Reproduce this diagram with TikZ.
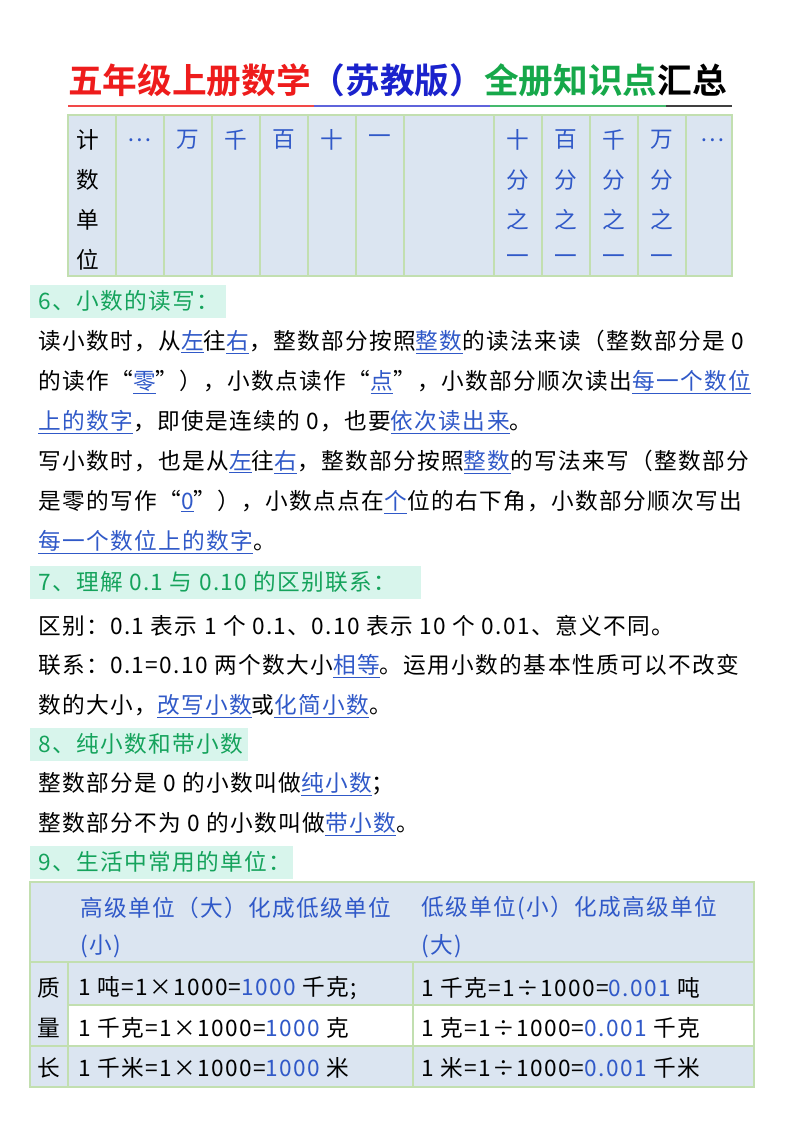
\documentclass[tikz,border=0pt]{standalone}
\usepackage{fontspec}
\setmainfont{Noto Sans CJK SC}[LetterSpace=6]
\newfontfamily\tfont{Noto Sans CJK SC}[BoldFont={* Bold}]
\definecolor{tred}{HTML}{EE1C1C}
\definecolor{tblue}{HTML}{1A22CC}
\definecolor{tgreen}{HTML}{16A84A}
\definecolor{ublue}{HTML}{3059C8}
\definecolor{hgreen}{HTML}{15A35C}
\definecolor{hbg}{HTML}{D8F5EC}
\definecolor{cellbg}{HTML}{DBE5F1}
\definecolor{cellln}{HTML}{C2DFB0}
\newcommand{\uw}[1]{\textcolor{ublue}{\underline{#1}}}
\newcommand{\bl}[1]{\textcolor{ublue}{#1}}
\begin{document}
\begin{tikzpicture}[x=0.75pt,y=-0.75pt,
  every node/.style={inner sep=0pt,font=\fontsize{17}{18}\selectfont},
  body/.style={anchor=west},
  head/.style={anchor=west,text=hgreen},
  hbox/.style={fill=hbg,draw=none},
  cell/.style={fill=cellbg,draw=cellln,line width=0.8pt},
  wcell/.style={fill=white,draw=cellln,line width=0.8pt}]
\useasboundingbox (0,0) rectangle (800,1132);
\fill[white] (0,0) rectangle (800,1132);
% title
\node[anchor=west,font=\tfont\bfseries\fontsize{26}{28}\selectfont] (title) at (68,80)
 {\textcolor{tred}{五年级上册数学}\textcolor{tblue}{（苏教版）}\textcolor{tgreen}{全册知识点}汇总};
\draw[tred!80,line width=1.2pt] (68,106) -- (314,106);
\draw[tblue!70,line width=1.2pt] (314,106) -- (490,106);
\draw[tgreen!80,line width=1.2pt] (490,106) -- (666,106);
\draw[black!75,line width=1.2pt] (666,106) -- (732,106);
% top table
\foreach \a/\b in {68/116,116/164,164/212,212/260,260/308,308/356,356/404,404/494,494/542,542/590,590/638,638/686,686/732}
  \draw[cell] (\a,115) rectangle (\b,276);
\foreach \t [count=\i] in {计,数,单,位} \node (c\i) at (88,100+40*\i) {\t};
\foreach \x/\t in {140/…,188/万,236/千,284/百,332/十,380/一,712/…}
  \node[text=ublue] at (\x,140) {\t};
\foreach \x/\t in {518/十,566/百,614/千,662/万}{
  \node[text=ublue] at (\x,140) {\t};
  \node[text=ublue] at (\x,180) {分};
  \node[text=ublue] at (\x,220) {之};
  \node[text=ublue] at (\x,260) {一};}
% section 6
\fill[hbox] (30,285) rectangle (226,318);
\node[head] (h6) at (38,301) {6、小数的读写：};
\node[body] (l1) at (38,342) {读小数时，从\uw{左}往\uw{右}，整数部分按照\uw{整数}的读法来读（整数部分是 0};
\node[body] (l2) at (38,382) {的读作“\uw{零}”），小数点读作“\uw{点}”，小数部分顺次读出\uw{每一个数位}};
\node[body] (l3) at (38,422) {\uw{上的数字}，即使是连续的 0，也要\uw{依次读出来}。};
\node[body] (l4) at (38,462) {写小数时，也是从\uw{左}往\uw{右}，整数部分按照\uw{整数}的写法来写（整数部分};
\node[body] (l5) at (38,502) {是零的写作“\uw{0}”），小数点点在\uw{个}位的右下角，小数部分顺次写出};
\node[body] (l6) at (38,542) {\uw{每一个数位上的数字}。};
% section 7
\fill[hbox] (30,566) rectangle (421,599);
\node[head] (h7) at (38,582) {7、理解 0.1 与 0.10 的区别联系：};
\node[body] (l7) at (38,626) {区别：0.1 表示 1 个 0.1、0.10 表示 10 个 0.01、意义不同。};
\node[body] (l8) at (38,666) {联系：0.1=0.10 两个数大小\uw{相等}。运用小数的基本性质可以不改变};
\node[body] (l9) at (38,706) {数的大小，\uw{改写小数}或\uw{化简小数}。};
% section 8
\fill[hbox] (30,728) rectangle (248,761);
\node[head] (h8) at (38,744) {8、纯小数和带小数};
\node[body] (l10) at (38,784) {整数部分是 0 的小数叫做\uw{纯小数}；};
\node[body] (l11) at (38,824) {整数部分不为 0 的小数叫做\uw{带小数}。};
% section 9
\fill[hbox] (30,846) rectangle (293,879);
\node[head] (h9) at (38,862) {9、生活中常用的单位：};
% bottom table
\draw[cell] (30,882) rectangle (754,962);
\draw[cell] (30,962) rectangle (68,1046);
\draw[cell] (68,962) rectangle (413,1005);
\draw[cell] (413,962) rectangle (754,1005);
\draw[wcell] (68,1005) rectangle (413,1046);
\draw[wcell] (413,1005) rectangle (754,1046);
\draw[cell] (30,1046) rectangle (68,1087);
\draw[cell] (68,1046) rectangle (413,1087);
\draw[cell] (413,1046) rectangle (754,1087);
\node[body,text=ublue] (t1) at (80,908) {高级单位（大）化成低级单位};
\node[body,text=ublue] (t2) at (80,946) {(小)};
\node[body,text=ublue] (t3) at (421,908) {低级单位(小）化成高级单位};
\node[body,text=ublue] (t4) at (421,946) {(大)};
\node (q1) at (49,988) {质};
\node (q2) at (49,1028) {量};
\node (q3) at (49,1068) {长};
\node[body] (r1) at (78,988) {1 吨=1×1000=\bl{1000} 千克;};
\node[body] (r2) at (78,1028) {1 千克=1×1000=\bl{1000} 克};
\node[body] (r3) at (78,1068) {1 千米=1×1000=\bl{1000} 米};
\node[body] (s1) at (421,988) {1 千克=1÷1000=\bl{0.001} 吨};
\node[body] (s2) at (421,1028) {1 克=1÷1000=\bl{0.001} 千克};
\node[body] (s3) at (421,1068) {1 米=1÷1000=\bl{0.001} 千米};
\end{tikzpicture}
\end{document}
